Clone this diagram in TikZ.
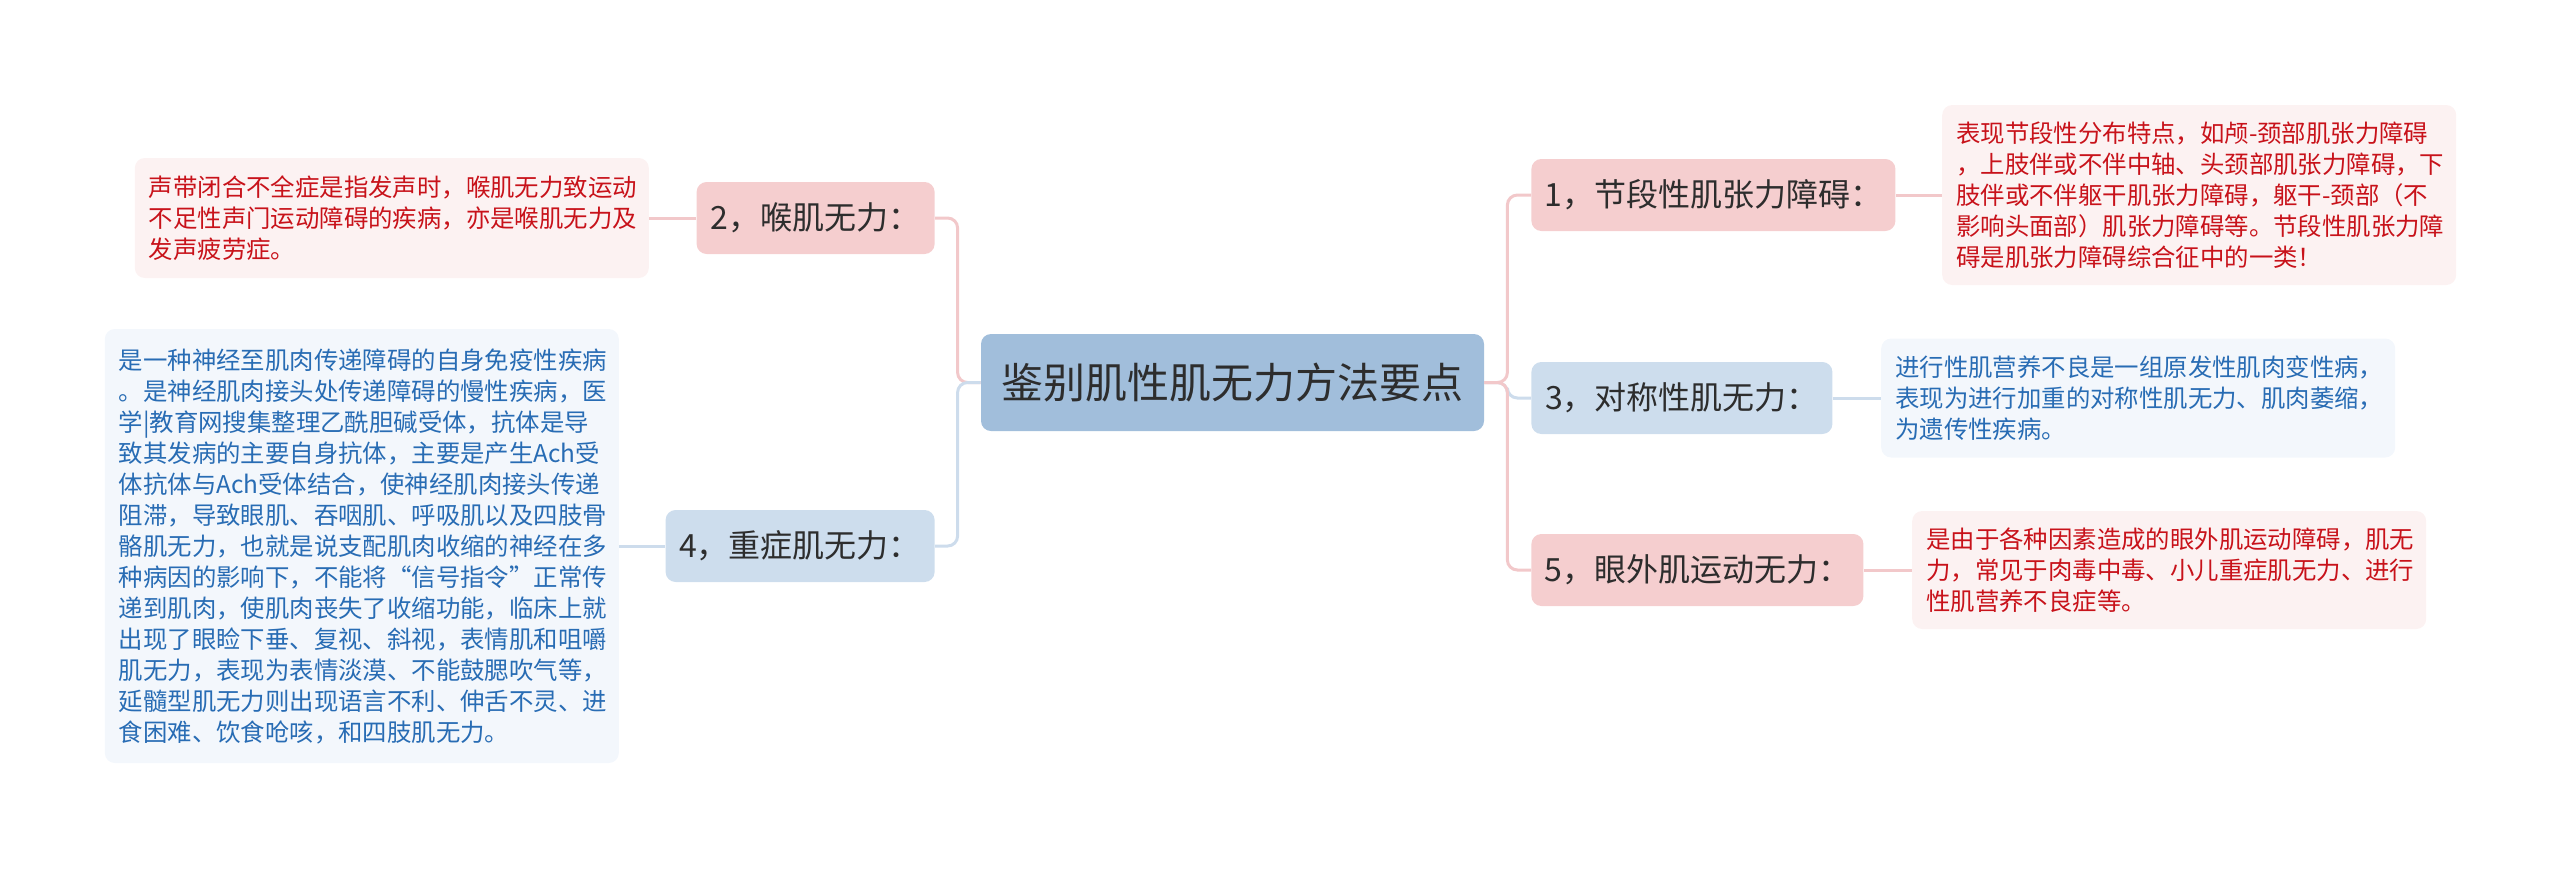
\documentclass[tikz,border=0pt]{standalone}
\usepackage{fontspec}
\setmainfont{Noto Sans CJK SC}
\usepackage{tikz}
\usepackage{xcolor}
\usetikzlibrary{positioning}
\definecolor{rootblue}{RGB}{161,190,219}
\definecolor{pinkfill}{RGB}{245,206,207}
\definecolor{bluefill}{RGB}{205,221,237}
\definecolor{pinkleaffill}{RGB}{252,242,242}
\definecolor{blueleaffill}{RGB}{243,247,252}
\definecolor{leafred}{RGB}{200,18,26}
\definecolor{leafblue}{RGB}{40,108,180}
\definecolor{pinkwire}{RGB}{242,200,202}
\definecolor{bluewire}{RGB}{205,220,236}
\definecolor{darktext}{RGB}{45,45,45}

\begin{document}
\begin{tikzpicture}[x=0.5pt,y=-0.5pt,
  root/.style={fill=rootblue,rounded corners=5pt,text=darktext,
        minimum width=251.5pt,minimum height=48.5pt,
        font=\fontsize{21}{25}\selectfont},
  branch/.style={rounded corners=5pt,text=darktext,minimum height=36pt,
        font=\fontsize{16}{19}\selectfont},
  pinkbranch/.style={branch,fill=pinkfill},
  bluebranch/.style={branch,fill=bluefill},
  leaf/.style={rounded corners=5pt,text width=243pt,inner xsep=7pt,
        align=left,font=\fontsize{12.2}{15.5}\selectfont},
  pinkleaf/.style={leaf,fill=pinkleaffill,text=leafred},
  blueleaf/.style={leaf,fill=blueleaffill,text=leafblue},
  pinkline/.style={draw=pinkwire,line width=1.5pt,rounded corners=5pt},
  blueline/.style={draw=bluewire,line width=1.5pt,rounded corners=5pt}]
  \useasboundingbox (0,0) rectangle (2560,869);
  % 中心主题
  \node[root] (R) at (1232.5,382.5) {鉴别肌性肌无力方法要点};
  % 右侧分支
  \node[pinkbranch,minimum width=182pt,anchor=west] (B1) at (1531,195) {1，节段性肌张力障碍：};
  \node[bluebranch,minimum width=150.5pt,anchor=west] (B3) at (1531,398) {3，对称性肌无力：};
  \node[pinkbranch,minimum width=166pt,anchor=west] (B5) at (1531,570) {5，眼外肌运动无力：};
  % 左侧分支
  \node[pinkbranch,minimum width=119pt,anchor=east] (B2) at (935,218) {2，喉肌无力：};
  \node[bluebranch,minimum width=134.5pt,anchor=east] (B4) at (935,546) {4，重症肌无力：};
  % 说明文字
  \node[pinkleaf,minimum height=90pt,right=23pt of B1] (L1)
    {表现节段性分布特点，如颅-颈部肌张力障碍\\
     ，上肢伴或不伴中轴、头颈部肌张力障碍，下\\
     肢伴或不伴躯干肌张力障碍，躯干-颈部（不\\
     影响头面部）肌张力障碍等。节段性肌张力障\\
     碍是肌张力障碍综合征中的一类！};
  \node[blueleaf,minimum height=59.5pt,right=24pt of B3] (L3)
    {进行性肌营养不良是一组原发性肌肉变性病，\\
     表现为进行加重的对称性肌无力、肌肉萎缩，\\
     为遗传性疾病。};
  \node[pinkleaf,minimum height=59pt,right=24pt of B5] (L5)
    {是由于各种因素造成的眼外肌运动障碍，肌无\\
     力，常见于肉毒中毒、小儿重症肌无力、进行\\
     性肌营养不良症等。};
  \node[pinkleaf,minimum height=60pt,left=23.5pt of B2] (L2)
    {声带闭合不全症是指发声时，喉肌无力致运动\\
     不足性声门运动障碍的疾病，亦是喉肌无力及\\
     发声疲劳症。};
  \node[blueleaf,minimum height=217pt,left=23pt of B4] (L4)
    {是一种神经至肌肉传递障碍的自身免疫性疾病\\
     。是神经肌肉接头处传递障碍的慢性疾病，医\\
     学|教育网搜集整理乙酰胆碱受体，抗体是导\\
     致其发病的主要自身抗体，主要是产生Ach受\\
     体抗体与Ach受体结合，使神经肌肉接头传递\\
     阻滞，导致眼肌、吞咽肌、呼吸肌以及四肢骨\\
     骼肌无力，也就是说支配肌肉收缩的神经在多\\
     种病因的影响下，不能将“信号指令”正常传\\
     递到肌肉，使肌肉丧失了收缩功能，临床上就\\
     出现了眼睑下垂、复视、斜视，表情肌和咀嚼\\
     肌无力，表现为表情淡漠、不能鼓腮吹气等，\\
     延髓型肌无力则出现语言不利、伸舌不灵、进\\
     食困难、饮食呛咳，和四肢肌无力。};
  % 连线：中心到分支
  \draw[blueline] (R.east) -- ++(23,0) |- (B3.west);
  \draw[pinkline] (R.east) -- ++(23,0) |- (B1.west);
  \draw[pinkline] (R.east) -- ++(23,0) |- (B5.west);
  \draw[pinkline] (R.west) -- ++(-23,0) |- (B2.east);
  \draw[blueline] (R.west) -- ++(-23,0) |- (B4.east);
  % 连线：分支到说明
  \draw[pinkline] (B1.east) -- (L1.west);
  \draw[blueline] (B3.east) -- (L3.west);
  \draw[pinkline] (B5.east) -- (L5.west);
  \draw[pinkline] (B2.west) -- (L2.east);
  \draw[blueline] (B4.west) -- (L4.east);
\end{tikzpicture}
\end{document}
